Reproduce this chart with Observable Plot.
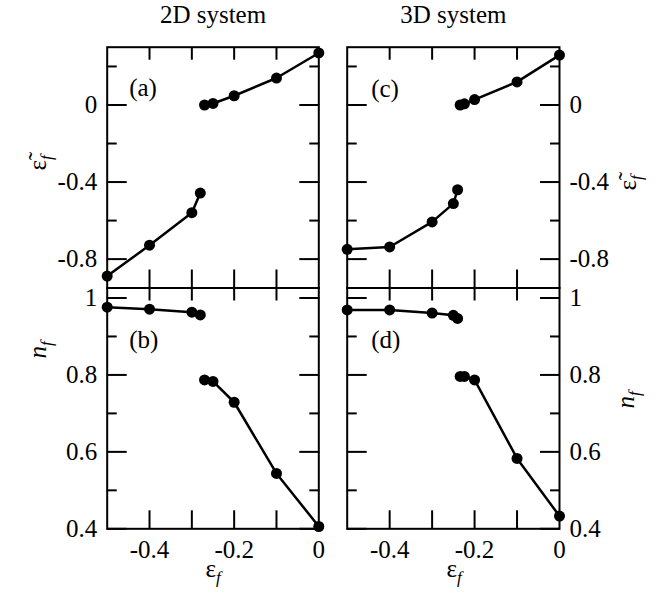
<!DOCTYPE html>
<html><head><meta charset="utf-8">
<script src="https://cdn.jsdelivr.net/npm/d3@7"></script>
<script src="https://cdn.jsdelivr.net/npm/@observablehq/plot@0.6"></script>
<style>
body{margin:0;background:#fff;}
#chart{position:relative;width:656px;height:594px;font-family:"Liberation Serif","Times New Roman",serif;color:#000;overflow:hidden;}
#chart svg{position:absolute;left:0;top:0;}
.lbl{position:absolute;font-size:25px;line-height:25px;white-space:nowrap;transform:translate(-50%,-50%);}
.rot{transform:translate(-50%,-50%) rotate(-90deg);}
.lbl sub{font-size:17px;font-style:italic;vertical-align:-6px;line-height:0;}
.lbl i{font-style:italic;}
</style></head><body><div id="chart"></div>
<script>
// x values (epsilon_f)
const x2D_lo = [-0.5, -0.4, -0.3, -0.28];
const x2D_hi = [-0.27, -0.25, -0.2, -0.1, 0];
const x3D_lo = [-0.5, -0.4, -0.3, -0.25, -0.24];
const x3D_hi = [-0.234, -0.224, -0.2, -0.1, 0];
// panel (a): renormalized level, 2D
const epsA_lo = [-0.888, -0.728, -0.559, -0.457];
const epsA_hi = [0.0, 0.008, 0.048, 0.14, 0.27];
// panel (b): occupation, 2D
const nB_lo = [0.976, 0.971, 0.963, 0.956];
const nB_hi = [0.787, 0.783, 0.729, 0.544, 0.406];
// panel (c): renormalized level, 3D
const epsC_lo = [-0.749, -0.737, -0.607, -0.512, -0.44];
const epsC_hi = [0.0, 0.006, 0.028, 0.12, 0.259];
// panel (d): occupation, 3D
const nD_lo = [0.969, 0.969, 0.961, 0.955, 0.947];
const nD_hi = [0.796, 0.796, 0.787, 0.583, 0.433];
// ticks
const xTicks = [-0.4, -0.3, -0.2, -0.1];
const xLabelTicks = [-0.4, -0.2, 0];
const epsMajor = [0, -0.4, -0.8];
const epsMinor = [0.2, -0.2, -0.6];
const nMajor = [1, 0.8, 0.6, 0.4];
const nMinor = [0.9, 0.7, 0.5];
const titles = ["2D system", "3D system"];
const tags = ["(a)", "(b)", "(c)", "(d)"];

const W = 656, H = 594;
const colX = {left: [106.7, 318.3], right: [346.7, 559]};
const rowY = {top: [46.7, 287.5], bottom: [287.5, 528.3]};
const fmt = d => String(d);
const FONT = "Liberation Serif";

function panel(o) {
  const rows = [];
  o.branches.forEach((b, i) => b.x.forEach((x, j) => rows.push({x, y: b.y[j], branch: i})));
  const [x0, x1] = colX[o.col], [y0, y1] = rowY[o.row];
  const tk = {fill: "none", label: null, strokeWidth: 2, stroke: "black"};
  const tx = {fontFamily: FONT, fontSize: 25, fill: "black"};
  const marks = [
    Plot.axisX(xTicks, {...tk, anchor: "bottom", tickSize: -18}),
    Plot.axisX(xTicks, {...tk, anchor: "top", tickSize: -12}),
    Plot.axisY(o.yMajor, {...tk, anchor: "left", tickSize: -20}),
    Plot.axisY(o.yMajor, {...tk, anchor: "right", tickSize: -20}),
    Plot.axisY(o.yMinor, {...tk, anchor: "left", tickSize: -10}),
    Plot.axisY(o.yMinor, {...tk, anchor: "right", tickSize: -10}),
    Plot.axisY(o.yMajor, {...tx, anchor: o.col, tickSize: 0, tickPadding: 10, tickFormat: fmt, label: null}),
    Plot.frame({stroke: "black", strokeWidth: 2}),
    Plot.line(rows, {x: "x", y: "y", z: "branch", stroke: "black", strokeWidth: 2.5}),
    Plot.dot(rows, {x: "x", y: "y", r: 5.5, fill: "black", stroke: null}),
    Plot.text([o.tag], {...tx, frameAnchor: "top-left", dx: o.tagDx, dy: o.tagDy, textAnchor: "start", lineAnchor: "middle"})
  ];
  if (o.row === "bottom") marks.push(Plot.axisX(xLabelTicks, {...tx, anchor: "bottom", tickSize: 0, tickPadding: 11, tickFormat: fmt, label: null}));
  if (o.title) marks.push(Plot.text([o.title], {...tx, frameAnchor: "top", dy: -24, lineAnchor: "bottom"}));
  return Plot.plot({
    width: W, height: H,
    marginLeft: x0, marginRight: W - x1, marginTop: y0, marginBottom: H - y1,
    style: "background: transparent; font-family: 'Liberation Serif', serif; font-size: 25px; color: black; overflow: visible;",
    x: {domain: [-0.5, 0]},
    y: {domain: o.yDomain},
    marks
  });
}

const chart = document.getElementById("chart");
const epsDomain = [-0.95, 0.3], nDomain = [0.4, 1.026];
[
  {col: "left", row: "top", yDomain: epsDomain, yMajor: epsMajor, yMinor: epsMinor, tag: tags[0], tagDx: 22, tagDy: 41, title: titles[0],
   branches: [{x: x2D_lo, y: epsA_lo}, {x: x2D_hi, y: epsA_hi}]},
  {col: "left", row: "bottom", yDomain: nDomain, yMajor: nMajor, yMinor: nMinor, tag: tags[1], tagDx: 22, tagDy: 52,
   branches: [{x: x2D_lo, y: nB_lo}, {x: x2D_hi, y: nB_hi}]},
  {col: "right", row: "top", yDomain: epsDomain, yMajor: epsMajor, yMinor: epsMinor, tag: tags[2], tagDx: 24, tagDy: 42, title: titles[1],
   branches: [{x: x3D_lo, y: epsC_lo}, {x: x3D_hi, y: epsC_hi}]},
  {col: "right", row: "bottom", yDomain: nDomain, yMajor: nMajor, yMinor: nMinor, tag: tags[3], tagDx: 24, tagDy: 52,
   branches: [{x: x3D_lo, y: nD_lo}, {x: x3D_hi, y: nD_hi}]}
].forEach(o => chart.appendChild(panel(o)));

// axis labels (HTML, with subscripts)
const labels = [
  {html: "ε&#771;<sub>f</sub>", x: 37, y: 163, rot: true},
  {html: "<i>n</i><sub>f</sub>", x: 37, y: 350, rot: true},
  {html: "ε&#771;<sub>f</sub>", x: 627, y: 183, rot: true},
  {html: "<i>n</i><sub>f</sub>", x: 625, y: 400, rot: true},
  {html: "ε<sub>f</sub>", x: 213, y: 568, rot: false},
  {html: "ε<sub>f</sub>", x: 454, y: 568, rot: false}
];
labels.forEach(l => {
  const d = document.createElement("div");
  d.className = "lbl" + (l.rot ? " rot" : "");
  d.innerHTML = l.html;
  d.style.left = l.x + "px";
  d.style.top = l.y + "px";
  chart.appendChild(d);
});
</script></body></html>
